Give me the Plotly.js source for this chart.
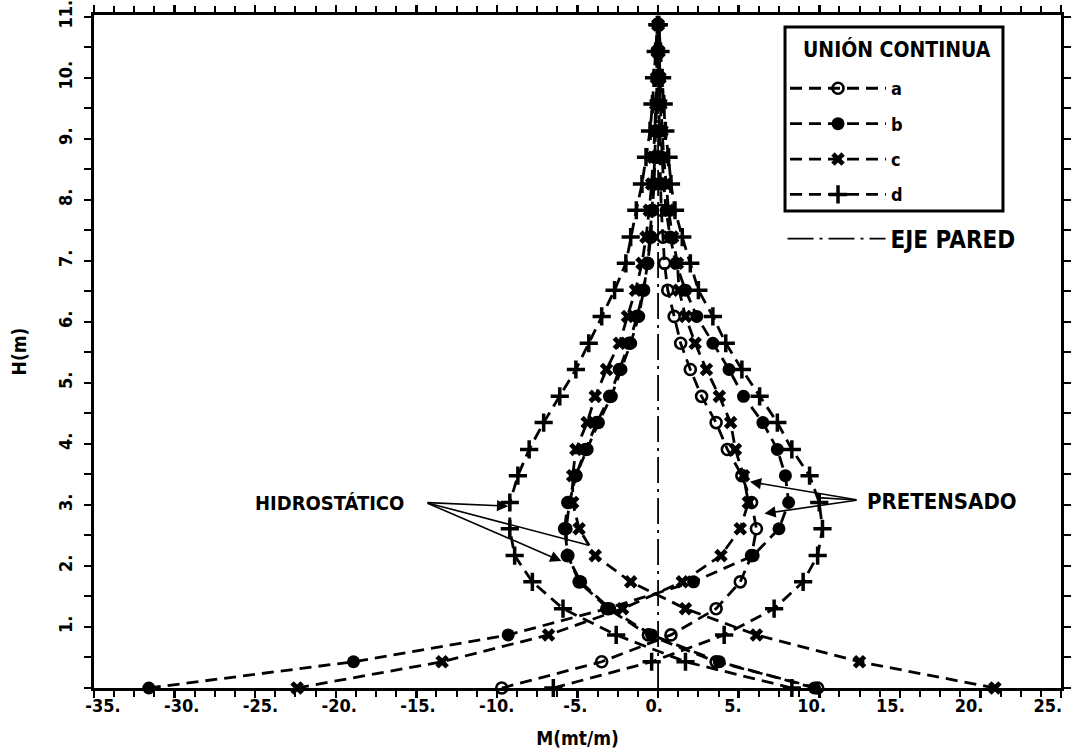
<!DOCTYPE html>
<html>
<head>
<meta charset="utf-8">
<script src="https://cdn.plot.ly/plotly-3.0.1.min.js"></script>
<style>
  html, body { margin: 0; padding: 0; background: #fff; }
  #chart { width: 1075px; height: 756px; }
</style>
</head>
<body>
<div id="chart"></div>
<script>
// Height along the wall (m)
const H = [0, 0.43, 0.87, 1.30, 1.74, 2.17, 2.61, 3.04, 3.48, 3.91, 4.35, 4.78, 5.22,
           5.65, 6.09, 6.52, 6.96, 7.39, 7.83, 8.26, 8.70, 9.13, 9.57, 10.00, 10.43, 10.87];

// Hydrostatic load moments (mt/m)
const hidroA = [9.9, 3.6, -0.6, -3.1, -4.9, -5.6, -5.8, -5.6, -5.1, -4.5, -3.8, -3.0, -2.4,
                -1.8, -1.3, -0.9, -0.65, -0.45, -0.35, -0.25, -0.2, -0.15, -0.1, -0.07, -0.04, 0.0];
const hidroB = [9.7, 3.8, -0.4, -3.0, -4.8, -5.65, -5.7, -5.5, -5.1, -4.4, -3.7, -2.9, -2.3,
                -1.7, -1.2, -0.9, -0.65, -0.5, -0.38, -0.28, -0.2, -0.14, -0.1, -0.06, -0.03, 0.0];
const hidroC = [20.9, 12.5, 6.1, 1.7, -1.7, -3.9, -4.9, -5.3, -5.3, -5.1, -4.4, -3.9, -3.2,
                -2.4, -1.9, -1.4, -1.0, -0.75, -0.55, -0.4, -0.3, -0.2, -0.15, -0.1, -0.05, 0.0];
const hidroD = [8.3, 1.7, -2.6, -5.9, -7.8, -8.9, -9.2, -9.2, -8.7, -8.0, -7.1, -6.1, -5.1,
                -4.3, -3.5, -2.7, -2.0, -1.7, -1.35, -1.0, -0.75, -0.5, -0.35, -0.25, -0.15, -0.05];

// Prestressing moments (mt/m)
const pretA = [-9.7, -3.5, 0.8, 3.6, 5.1, 5.8, 6.1, 5.8, 5.2, 4.3, 3.6, 2.7, 2.0,
               1.4, 1.0, 0.6, 0.4, 0.3, 0.2, 0.15, 0.1, 0.08, 0.05, 0.03, 0.02, 0.0];
const pretB = [-31.6, -18.9, -9.3, -3.2, 2.2, 5.9, 7.5, 8.1, 7.9, 7.4, 6.5, 5.3, 4.4,
               3.4, 2.4, 1.7, 1.1, 0.75, 0.5, 0.35, 0.25, 0.2, 0.15, 0.1, 0.05, 0.0];
const pretC = [-22.4, -13.4, -6.8, -2.2, 1.5, 3.9, 5.1, 5.6, 5.3, 4.8, 4.5, 3.8, 3.0,
               2.3, 1.7, 1.3, 1.2, 0.9, 0.65, 0.5, 0.35, 0.25, 0.18, 0.12, 0.06, 0.0];
const pretD = [-6.5, -0.4, 4.1, 7.2, 9.0, 9.9, 10.2, 10.0, 9.4, 8.3, 7.4, 6.3, 5.2,
               4.2, 3.4, 2.5, 2.0, 1.5, 1.05, 0.8, 0.65, 0.45, 0.35, 0.25, 0.15, 0.05];

// Wall axis
const ejeM = [0, 0];
const ejeH = [0, 10.87];

// Series names
const seriesNames = ['a', 'b', 'c', 'd'];

// Tick labels
const xTickVals = [-35, -30, -25, -20, -15, -10, -5, 0, 5, 10, 15, 20, 25];
const xTickText = ['-35.', '-30.', '-25.', '-20.', '-15.', '-10.', '-5.', '0.', '5.', '10.', '15.', '20.', '25.'];
const yTickVals = [1, 2, 3, 4, 5, 6, 7, 8, 9, 10, 11];
const yTickText = ['1.', '2.', '3.', '4.', '5.', '6.', '7.', '8.', '9.', '10.', '11.'];

const FAM = 'DejaVu Sans Condensed, DejaVu Sans, sans-serif';
const f = (size) => ({family: FAM, size: size, color: 'black', weight: 'bold'});
const DASH = '12px,7px';

const markers = [
  {symbol: 'circle-open', size: 11, color: 'black', line: {width: 2.6, color: 'black'}},
  {symbol: 'circle', size: 13, color: 'black', line: {width: 0}},
  {symbol: 'x', size: 12, color: 'black', line: {width: 0}},
  {symbol: 'cross-thin-open', size: 13, color: 'black', line: {width: 3.5, color: 'black'}}
];

const hidro = [hidroA, hidroB, hidroC, hidroD];
const pret = [pretA, pretB, pretC, pretD];

const traces = [{
  x: ejeM, y: ejeH, type: 'scatter', mode: 'lines', name: 'EJE PARED',
  legend: 'legend2', showlegend: true,
  line: {color: 'black', width: 1.8, dash: '26px,6px,3px,6px'}
}];
for (let i = 0; i < 4; i++) {
  traces.push({
    x: hidro[i], y: H, type: 'scatter', mode: 'lines+markers',
    name: seriesNames[i], legendgroup: seriesNames[i], showlegend: true, legend: 'legend',
    line: {color: 'black', width: 2.8, dash: DASH},
    marker: markers[i], cliponaxis: false
  });
  traces.push({
    x: pret[i], y: H, type: 'scatter', mode: 'lines+markers',
    name: seriesNames[i], legendgroup: seriesNames[i], showlegend: false,
    line: {color: 'black', width: 2.8, dash: DASH},
    marker: markers[i], cliponaxis: false
  });
}
// empty trace that carries the tick-label axis
traces.push({x: [], y: [], xaxis: 'x2', yaxis: 'y', type: 'scatter', mode: 'markers', showlegend: false, hoverinfo: 'skip'});

const axisCommon = {
  showgrid: false, zeroline: false, showline: true, linecolor: 'black', linewidth: 3,
  mirror: 'allticks', ticks: 'outside', ticklen: 7, tickwidth: 2.5, tickcolor: 'black',
  tickfont: f(18)
};

const arrowCommon = {
  xref: 'x', yref: 'y', axref: 'x', ayref: 'y', text: '', showarrow: true,
  arrowhead: 2, arrowsize: 1.4, arrowwidth: 1.6, arrowcolor: 'black', standoff: 0
};

// plot area pixel frame: left 94, right 1061, top 15, bottom 688
const layout = {
  width: 1075, height: 756,
  margin: {l: 94, r: 14, t: 15, b: 68},
  paper_bgcolor: 'white', plot_bgcolor: 'white',
  font: f(18),
  xaxis: Object.assign({}, axisCommon, {
    range: [-35, 25], tickmode: 'array', tickvals: xTickVals, showticklabels: false,
    minor: {tickmode: 'linear', tick0: 0, dtick: 1.25, ticks: 'outside', ticklen: 6, tickwidth: 2, tickcolor: 'black', showgrid: false}
  }),
  xaxis2: {
    overlaying: 'x', anchor: 'y', side: 'bottom',
    range: [-35.57, 25.83], showline: false, showgrid: false, zeroline: false, ticks: '',
    tickmode: 'array', tickvals: xTickVals, ticktext: xTickText, tickfont: f(18),
    ticklabelstandoff: 5,
    title: {text: 'M(mt/m)', font: f(19), standoff: 16}
  },
  yaxis: Object.assign({}, axisCommon, {
    range: [0, 11.03], tickmode: 'array', tickvals: yTickVals, ticktext: yTickText,
    tickangle: -90, ticklabeloverflow: 'allow', ticklabelstandoff: 5,
    minor: {tickmode: 'linear', tick0: 0, dtick: 0.5, ticks: 'outside', ticklen: 6, tickwidth: 2, tickcolor: 'black', showgrid: false},
    title: {text: 'H(m)', font: f(19), standoff: 24}
  }),
  legend: {
    x: 0.7146, y: 0.9182, xanchor: 'left', yanchor: 'top',
    bgcolor: 'rgba(0,0,0,0)', borderwidth: 0,
    font: f(18), itemwidth: 96, tracegroupgap: 9
  },
  legend2: {
    x: 0.712, y: 0.667, xanchor: 'left', yanchor: 'middle',
    bgcolor: 'rgba(0,0,0,0)', borderwidth: 0,
    font: f(24), itemwidth: 98
  },
  shapes: [
    {type: 'rect', xref: 'paper', yref: 'paper', x0: 0.7146, x1: 0.9400, y0: 0.7088, y1: 0.9822,
     line: {color: 'black', width: 3}, fillcolor: 'white', layer: 'above'}
  ],
  annotations: [
    {xref: 'paper', yref: 'paper', x: 0.8299, y: 0.948, xanchor: 'center', yanchor: 'middle',
     text: 'UNIÓN CONTINUA', showarrow: false, font: f(21)},
    {xref: 'x', yref: 'y', x: -20.4, y: 3.03, xanchor: 'center', yanchor: 'middle',
     text: 'HIDROSTÁTICO', showarrow: false, font: f(20)},
    {xref: 'x', yref: 'y', x: 17.6, y: 3.06, xanchor: 'center', yanchor: 'middle',
     text: 'PRETENSADO', showarrow: false, font: f(22)},
    Object.assign({}, arrowCommon, {ax: -14.4, ay: 3.04, x: -9.3, y: 2.98}),
    Object.assign({}, arrowCommon, {ax: -14.4, ay: 3.04, x: -4.3, y: 2.34, arrowhead: 0}),
    Object.assign({}, arrowCommon, {ax: -14.4, ay: 3.04, x: -6.0, y: 2.08}),
    Object.assign({}, arrowCommon, {ax: 12.4, ay: 3.08, x: 5.7, y: 3.38}),
    Object.assign({}, arrowCommon, {ax: 12.4, ay: 3.08, x: 6.6, y: 2.86}),
    Object.assign({}, arrowCommon, {ax: 12.4, ay: 3.08, x: 9.9, y: 3.12, arrowhead: 0})
  ]
};

Plotly.newPlot('chart', traces, layout, {displayModeBar: false, staticPlot: true});
</script>
</body>
</html>
